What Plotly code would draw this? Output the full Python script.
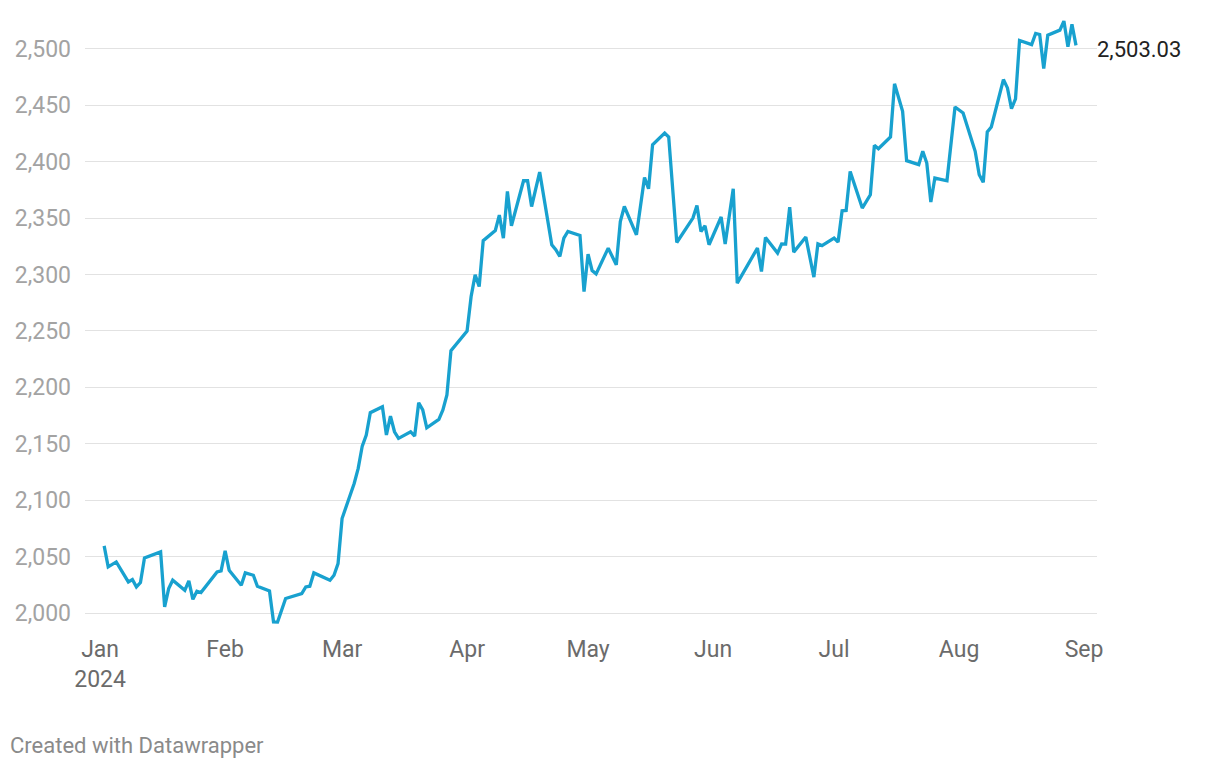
import plotly.graph_objects as go

DATES = [
    "2024-01-02", "2024-01-03", "2024-01-05", "2024-01-08", "2024-01-09", "2024-01-10",
    "2024-01-11", "2024-01-12", "2024-01-16", "2024-01-17", "2024-01-18", "2024-01-19",
    "2024-01-22", "2024-01-23", "2024-01-24", "2024-01-25", "2024-01-26", "2024-01-30",
    "2024-01-31", "2024-02-01", "2024-02-02", "2024-02-05", "2024-02-06", "2024-02-08",
    "2024-02-09", "2024-02-12", "2024-02-13", "2024-02-14", "2024-02-16", "2024-02-20",
    "2024-02-21", "2024-02-22", "2024-02-23", "2024-02-27", "2024-02-28", "2024-02-29",
    "2024-03-01", "2024-03-04", "2024-03-05", "2024-03-06", "2024-03-07", "2024-03-08",
    "2024-03-11", "2024-03-12", "2024-03-13", "2024-03-14", "2024-03-15", "2024-03-18",
    "2024-03-19", "2024-03-20", "2024-03-21", "2024-03-22", "2024-03-25", "2024-03-26",
    "2024-03-27", "2024-03-28", "2024-04-01", "2024-04-02", "2024-04-03", "2024-04-04",
    "2024-04-05", "2024-04-08", "2024-04-09", "2024-04-10", "2024-04-11", "2024-04-12",
    "2024-04-15", "2024-04-16", "2024-04-17", "2024-04-19", "2024-04-22", "2024-04-23",
    "2024-04-24", "2024-04-25", "2024-04-26", "2024-04-29", "2024-04-30", "2024-05-01",
    "2024-05-02", "2024-05-03", "2024-05-06", "2024-05-08", "2024-05-09", "2024-05-10",
    "2024-05-13", "2024-05-15", "2024-05-16", "2024-05-17", "2024-05-20", "2024-05-21",
    "2024-05-23", "2024-05-27", "2024-05-28", "2024-05-29", "2024-05-30", "2024-05-31",
    "2024-06-03", "2024-06-04", "2024-06-06", "2024-06-07", "2024-06-12", "2024-06-13",
    "2024-06-14", "2024-06-17", "2024-06-18", "2024-06-19", "2024-06-20", "2024-06-21",
    "2024-06-24", "2024-06-26", "2024-06-27", "2024-06-28", "2024-07-01", "2024-07-02",
    "2024-07-03", "2024-07-04", "2024-07-05", "2024-07-08", "2024-07-10", "2024-07-11",
    "2024-07-12", "2024-07-15", "2024-07-16", "2024-07-17", "2024-07-18", "2024-07-19",
    "2024-07-22", "2024-07-23", "2024-07-24", "2024-07-25", "2024-07-26", "2024-07-29",
    "2024-07-31", "2024-08-02", "2024-08-05", "2024-08-06", "2024-08-07", "2024-08-08",
    "2024-08-09", "2024-08-12", "2024-08-13", "2024-08-14", "2024-08-15", "2024-08-16",
    "2024-08-19", "2024-08-20", "2024-08-21", "2024-08-22", "2024-08-23", "2024-08-26",
    "2024-08-27", "2024-08-28", "2024-08-29", "2024-08-30",
]

VALUES = [
    2059.5, 2041.0, 2045.3, 2027.6, 2029.7, 2023.2,
    2027.0, 2048.9, 2054.2, 2005.4, 2021.7, 2029.1,
    2020.2, 2028.5, 2012.2, 2019.3, 2018.2, 2036.5,
    2037.4, 2055.1, 2038.0, 2024.7, 2035.6, 2033.5,
    2023.8, 2019.6, 1992.1, 1992.0, 2012.9, 2017.3,
    2023.2, 2023.8, 2035.6, 2029.1, 2033.5, 2043.9,
    2083.8, 2114.9, 2128.2, 2148.0, 2157.8, 2177.6,
    2182.9, 2157.8, 2174.6, 2160.7, 2154.8, 2160.7,
    2156.9, 2186.4, 2180.0, 2164.2, 2171.7, 2180.0,
    2193.3, 2232.6, 2250.0, 2280.5, 2299.7, 2289.4,
    2330.0, 2339.0, 2352.7, 2332.3, 2373.7, 2343.2,
    2383.1, 2383.1, 2360.3, 2390.8, 2326.4, 2322.0,
    2316.0, 2332.3, 2338.2, 2334.6, 2284.9, 2318.1,
    2303.6, 2300.6, 2323.4, 2308.6, 2347.0, 2360.3,
    2335.2, 2386.0, 2376.0, 2415.0, 2425.4, 2421.9,
    2328.4, 2350.0, 2361.2, 2338.2, 2343.2, 2326.4,
    2351.0, 2327.0, 2376.0, 2292.4, 2323.4, 2302.7,
    2332.9, 2319.0, 2327.2, 2327.0, 2359.8, 2319.9,
    2333.2, 2297.7, 2327.2, 2325.7, 2332.3, 2328.8,
    2356.5, 2356.8, 2391.4, 2358.9, 2370.7, 2414.5,
    2411.5, 2421.9, 2469.0, 2456.5, 2444.6, 2400.9,
    2397.4, 2409.2, 2398.8, 2364.2, 2385.5, 2383.1,
    2448.5, 2443.2, 2409.2, 2388.5, 2381.7, 2426.4,
    2430.8, 2472.8, 2465.4, 2447.0, 2455.6, 2507.4,
    2503.8, 2513.6, 2512.7, 2482.5, 2512.1, 2516.6,
    2524.6, 2501.9, 2521.7, 2503.03,
]

MONTH_TICKS = [
    "2024-01-01", "2024-02-01", "2024-03-01", "2024-04-01", "2024-05-01",
    "2024-06-01", "2024-07-01", "2024-08-01", "2024-09-01",
]
MONTH_LABELS = ["Jan<br>2024", "Feb", "Mar", "Apr", "May", "Jun", "Jul", "Aug", "Sep"]
Y_TICKS = [2000, 2050, 2100, 2150, 2200, 2250, 2300, 2350, 2400, 2450, 2500]

LINE_COLOR = "#18a1cf"
FONT = "Roboto, Arial, sans-serif"

fig = go.Figure(
    go.Scatter(
        x=DATES,
        y=VALUES,
        mode="lines",
        line=dict(color=LINE_COLOR, width=3.3),
        hoverinfo="skip",
    )
)

# value label at the end of the line
fig.add_annotation(
    x=DATES[-1],
    y=VALUES[-1],
    text=f"{VALUES[-1]:,.2f}",
    showarrow=False,
    xanchor="left",
    xshift=19,
    yshift=-4,
    font=dict(size=22, color="#222222", family=FONT),
)

fig.add_annotation(
    xref="paper",
    yref="paper",
    x=-0.076,
    y=-0.188,
    text="Created with Datawrapper",
    showarrow=False,
    xanchor="left",
    yanchor="middle",
    font=dict(size=22, color="#8a8a8a", family=FONT),
)

fig.update_xaxes(
    range=["2023-12-28 06:00", "2024-09-04 05:00"],
    tickvals=MONTH_TICKS,
    ticktext=MONTH_LABELS,
    showgrid=False,
    zeroline=False,
    showline=False,
    ticks="",
    ticklabelstandoff=3,
    tickfont=dict(size=23, color="#6b6b6b", family=FONT),
)
fig.update_yaxes(
    range=[1985, 2530],
    tickvals=Y_TICKS,
    tickformat=",",
    showgrid=True,
    gridcolor="#e2e2e2",
    gridwidth=1,
    zeroline=False,
    showline=False,
    ticks="",
    ticklabelstandoff=13,
    tickfont=dict(size=23, color="#a3a3a3", family=FONT),
)
# the page body has an 8px margin, so the figure is drawn 8px smaller
fig.update_layout(
    width=1212,
    height=760,
    margin=dict(l=73, r=123, t=7, b=138),
    plot_bgcolor="white",
    paper_bgcolor="white",
    showlegend=False,
    font=dict(family=FONT),
)

fig.write_html("out.html")
